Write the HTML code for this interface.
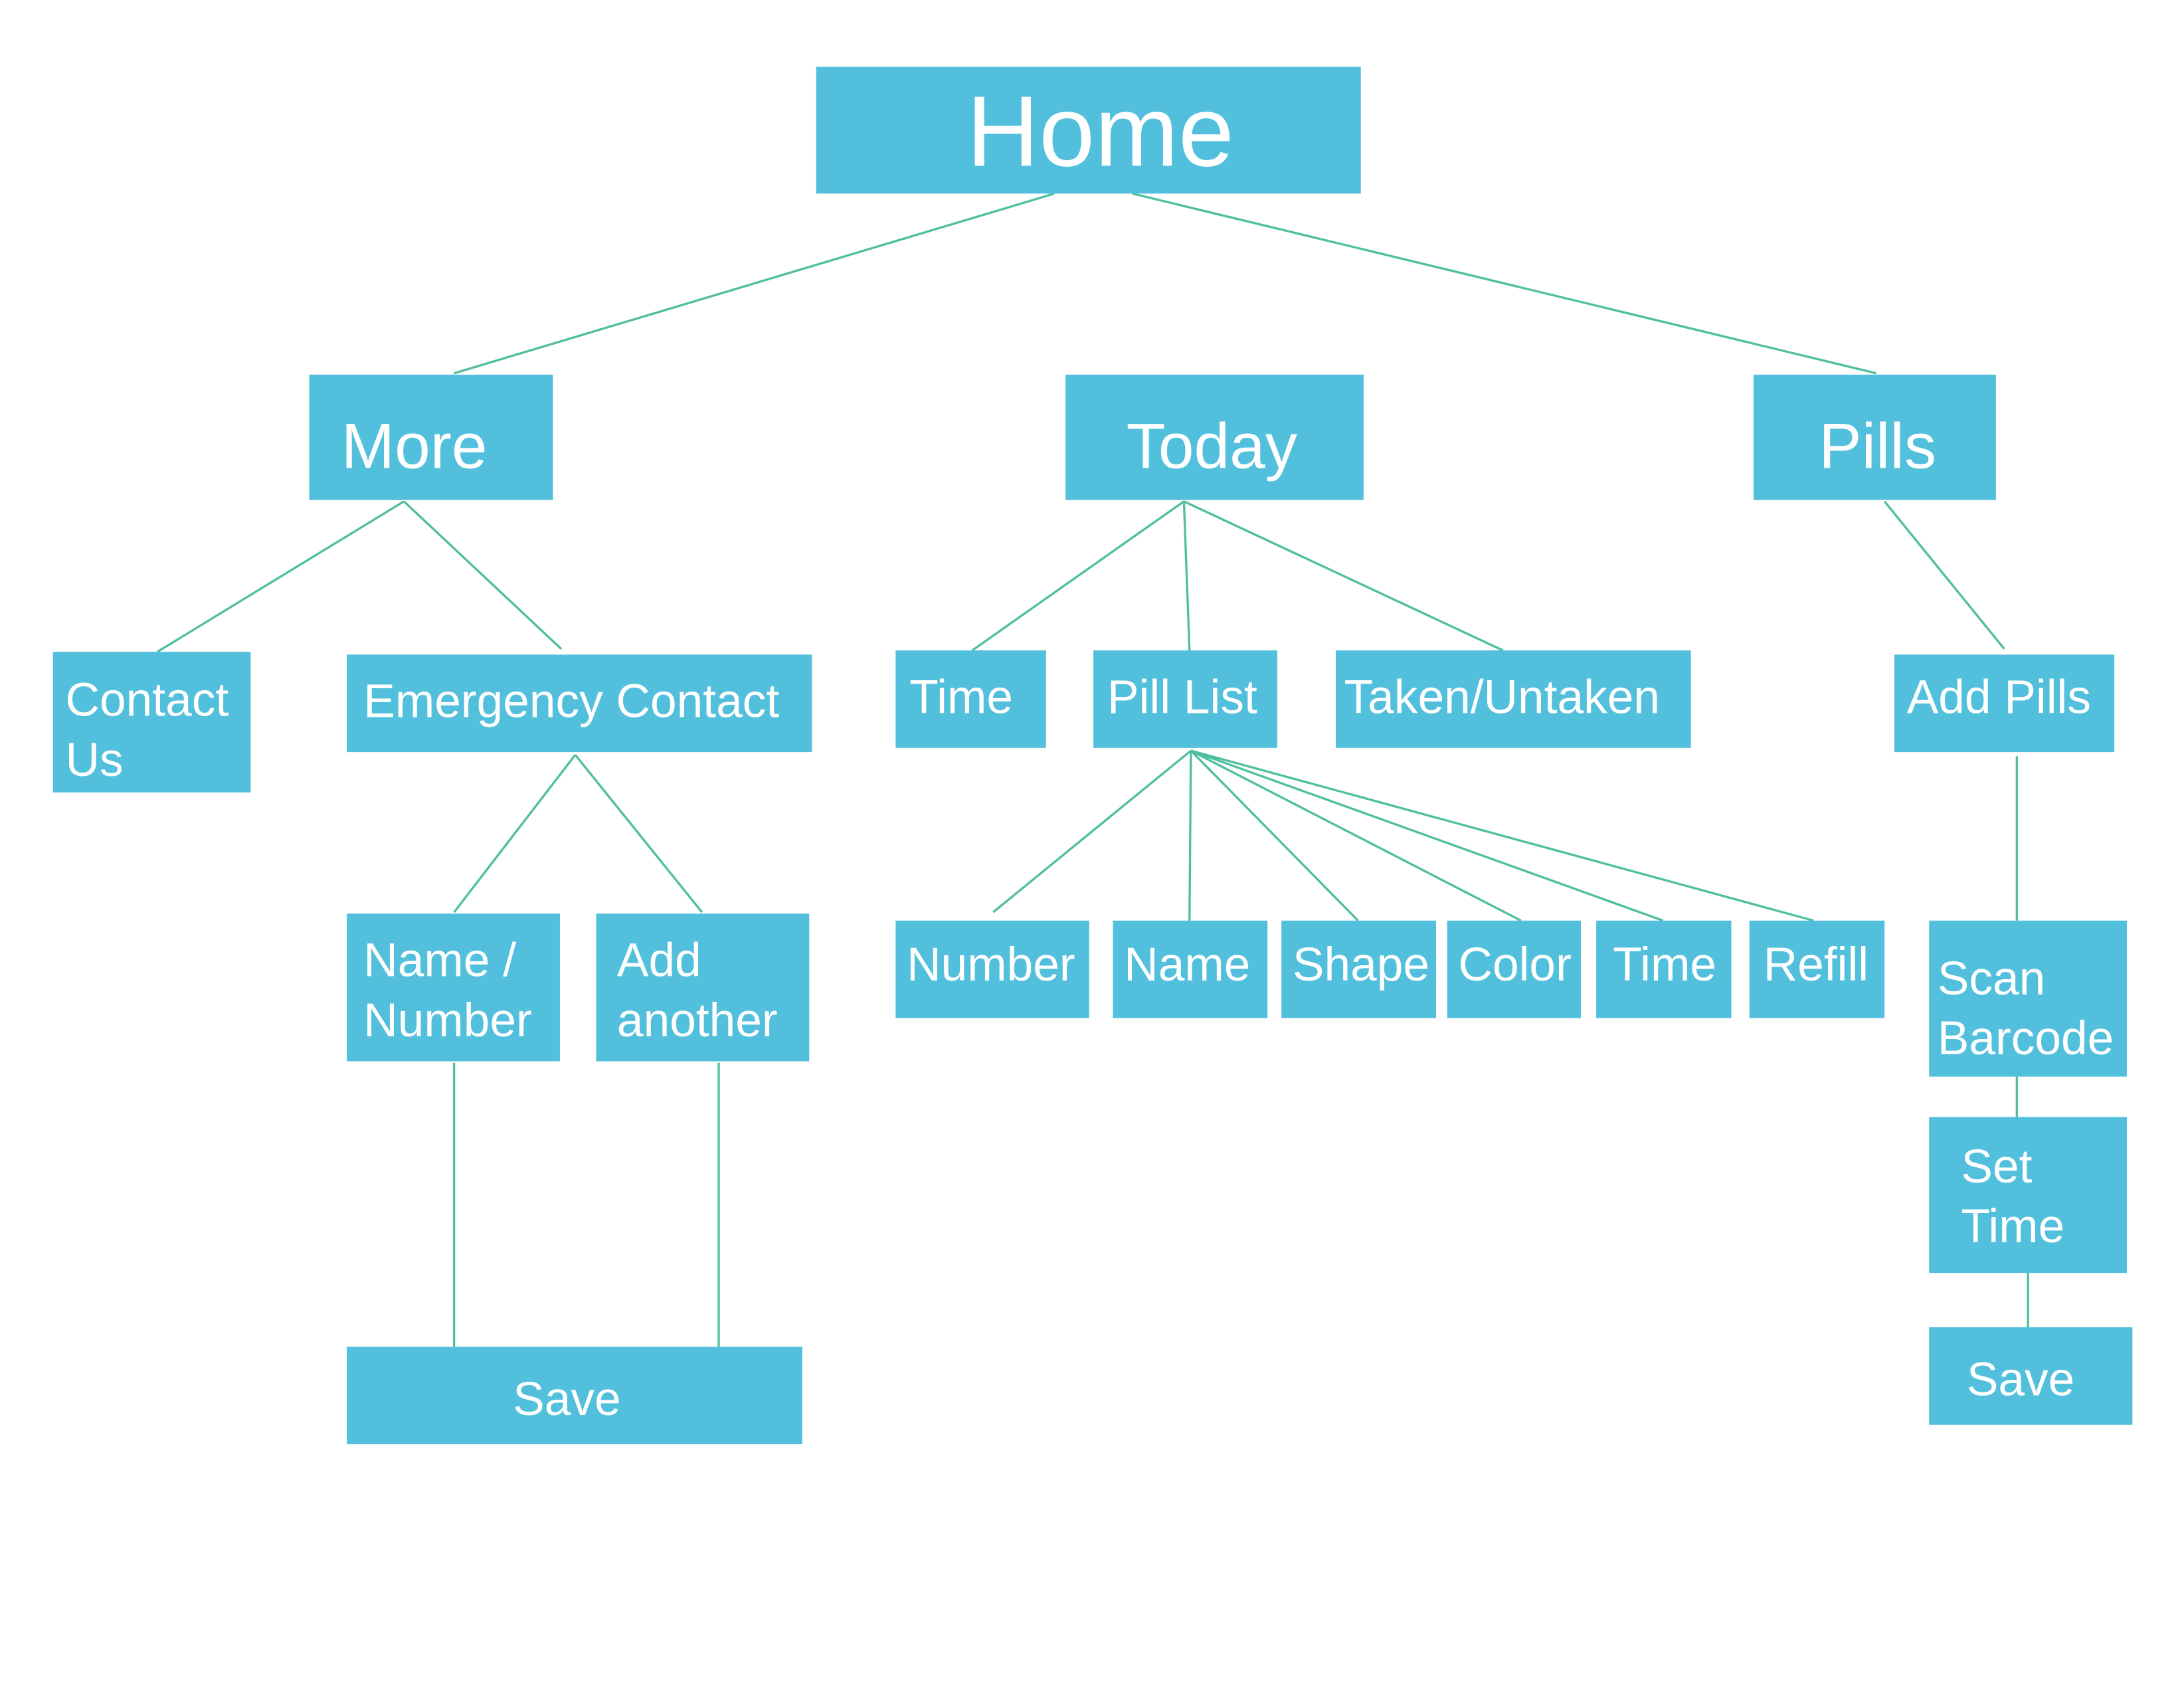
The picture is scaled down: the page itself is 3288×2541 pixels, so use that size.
<!DOCTYPE html>
<html><head><meta charset="utf-8"><style>
html,body{margin:0;padding:0;background:#fff;width:3288px;height:2541px;overflow:hidden}
svg{display:block}
text{font-family:"Liberation Sans",sans-serif;fill:#fff}
</style></head><body>
<svg width="3288" height="2541" viewBox="0 0 1568 1212" preserveAspectRatio="none">
<g stroke="#4fbf9f" stroke-width="1.6" fill="none">
<line x1="757" y1="139" x2="326" y2="268"/>
<line x1="813" y1="139" x2="1347" y2="268"/>
<line x1="290" y1="360" x2="113" y2="468"/>
<line x1="290" y1="360" x2="403" y2="466"/>
<line x1="850" y1="360" x2="698" y2="467"/>
<line x1="850" y1="360" x2="854" y2="467"/>
<line x1="850" y1="360" x2="1079" y2="467"/>
<line x1="1353" y1="360" x2="1439" y2="466"/>
<line x1="413" y1="542" x2="326" y2="655"/>
<line x1="413" y1="542" x2="504" y2="655"/>
<line x1="855" y1="539" x2="713" y2="655"/>
<line x1="855" y1="539" x2="854" y2="661"/>
<line x1="855" y1="539" x2="975" y2="661"/>
<line x1="855" y1="539" x2="1092" y2="661"/>
<line x1="855" y1="539" x2="1194" y2="661"/>
<line x1="855" y1="539" x2="1302" y2="661"/>
<line x1="1448" y1="543" x2="1448" y2="661"/>
<line x1="1448" y1="773" x2="1448" y2="802"/>
<line x1="1456" y1="914" x2="1456" y2="953"/>
<line x1="326" y1="763" x2="326" y2="967"/>
<line x1="516" y1="763" x2="516" y2="967"/>
</g>
<g fill="#52c0dc">
<rect x="586" y="48" width="391" height="91"/>
<rect x="222" y="269" width="175" height="90"/>
<rect x="765" y="269" width="214" height="90"/>
<rect x="1259" y="269" width="174" height="90"/>
<rect x="38" y="468" width="142" height="101"/>
<rect x="249" y="470" width="334" height="70"/>
<rect x="643" y="467" width="108" height="70"/>
<rect x="785" y="467" width="132" height="70"/>
<rect x="959" y="467" width="255" height="70"/>
<rect x="1360" y="470" width="158" height="70"/>
<rect x="249" y="656" width="153" height="106"/>
<rect x="428" y="656" width="153" height="106"/>
<rect x="643" y="661" width="139" height="70"/>
<rect x="799" y="661" width="111" height="70"/>
<rect x="920" y="661" width="111" height="70"/>
<rect x="1039" y="661" width="96" height="70"/>
<rect x="1146" y="661" width="97" height="70"/>
<rect x="1256" y="661" width="97" height="70"/>
<rect x="1385" y="661" width="142" height="112"/>
<rect x="1385" y="802" width="142" height="112"/>
<rect x="249" y="967" width="327" height="70"/>
<rect x="1385" y="953" width="146" height="70"/>
</g>
<text x="790" y="119" font-size="72" text-anchor="middle">Home</text>
<text x="245" y="336" font-size="46">More</text>
<text x="870" y="336" font-size="46" text-anchor="middle">Today</text>
<text x="1348" y="336" font-size="46" text-anchor="middle">Pills</text>
<g font-size="34">
<text x="47" y="514">Contact</text>
<text x="47" y="557">Us</text>
<text x="261" y="515">Emergency Contact</text>
<text x="653" y="512">Time</text>
<text x="795" y="512">Pill List</text>
<text x="965" y="512">Taken/Untaken</text>
<text x="1369" y="512">Add Pills</text>
<text x="261" y="701">Name /</text>
<text x="261" y="744">Number</text>
<text x="443" y="701">Add</text>
<text x="443" y="744">another</text>
<text x="651" y="704">Number</text>
<text x="807" y="704">Name</text>
<text x="928" y="704">Shape</text>
<text x="1047" y="704">Color</text>
<text x="1158" y="704">Time</text>
<text x="1266" y="704">Refill</text>
<text x="1391" y="714">Scan</text>
<text x="1391" y="757">Barcode</text>
<text x="1408" y="849">Set</text>
<text x="1408" y="892">Time</text>
<text x="407" y="1016" text-anchor="middle">Save</text>
<text x="1412" y="1002">Save</text>
</g>
</svg>
</body></html>
